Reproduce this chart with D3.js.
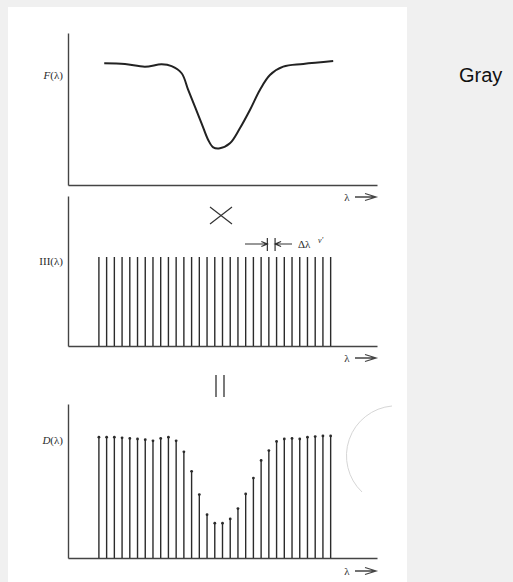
<!DOCTYPE html>
<html>
<head>
<meta charset="utf-8">
<script src="https://cdn.jsdelivr.net/npm/d3@7"></script>
<style>
  html, body { margin: 0; padding: 0; background: #f0f0f0; }
  svg { display: block; }
  text { -webkit-font-smoothing: antialiased; }
  .serif { font-family: "Liberation Serif", "DejaVu Serif", serif; fill: #2a2a2a; }
</style>
</head>
<body>
<script>
// Sample positions of the comb (index of each tooth)
const combIndex = d3.range(31);

// Continuous spectrum F(λ): [λ (tooth units), value]
const fCurve = [
  [0.69, 0.998], [3.37, 0.992], [5.95, 0.970], [8.12, 0.989], [9.41, 0.975],
  [10.71, 0.916], [11.56, 0.779], [12.43, 0.642], [13.29, 0.506], [14.15, 0.369],
  [14.8, 0.309], [15.66, 0.301], [16.96, 0.342], [18.25, 0.465], [19.55, 0.615],
  [20.84, 0.779], [22.14, 0.902], [23.86, 0.970], [26.45, 0.992], [30.33, 1.016]
];

// Sampling comb III(λ): unit teeth
const combValues = combIndex.map(() => 1);

// Sampled spectrum D(λ) at each tooth
const dValues = [
  0.99, 0.99, 0.99, 0.985, 0.98, 0.975, 0.97, 0.96, 0.98, 0.99,
  0.96, 0.87, 0.71, 0.52, 0.355, 0.285, 0.285, 0.32, 0.405, 0.525,
  0.655, 0.80, 0.88, 0.955, 0.975, 0.98, 0.975, 0.99, 0.995, 1.0, 1.0
];

const W = 513, H = 582;
const svg = d3.select("body").append("svg").attr("width", W).attr("height", H);

// paper sheet
svg.append("rect").attr("x", 8).attr("y", 7).attr("width", 399).attr("height", H - 7).attr("fill", "#ffffff");

svg.append("text").attr("x", 459).attr("y", 82)
  .attr("font-family", "Liberation Sans, Arial, sans-serif").attr("font-size", 20)
  .attr("fill", "#111").text("Gray");

const x = d3.scaleLinear().domain([-4, 36]).range([68, 377]);
const yTop = d3.scaleLinear().domain([0, 1.246]).range([185, 33]);
const yMid = d3.scaleLinear().domain([0, 1.685]).range([346, 196]);
const yBot = d3.scaleLinear().domain([0, 1.262]).range([558, 404]);

const ink = "#2b2b2b";

function frame(y) {
  const gx = svg.append("g").attr("transform", `translate(0,${y.range()[0]})`)
    .call(d3.axisBottom(x).ticks(0).tickSizeOuter(0));
  const gy = svg.append("g").attr("transform", `translate(${x.range()[0]},0)`)
    .call(d3.axisLeft(y).ticks(0).tickSizeOuter(0));
  [gx, gy].forEach(g => g.select(".domain").attr("stroke", "#444").attr("stroke-width", 1.4));
}

function lambdaArrow(yPos) {
  svg.append("text").attr("class", "serif").attr("x", 347).attr("y", yPos + 3.5)
    .attr("font-size", 11).attr("text-anchor", "middle").text("λ");
  svg.append("path")
    .attr("d", `M355,${yPos} L376,${yPos} M365,${yPos - 3.5} L376,${yPos} L365,${yPos + 3.5}`)
    .attr("fill", "none").attr("stroke", "#444").attr("stroke-width", 1.3);
}

function yLabel(yPos, parts) {
  const t = svg.append("text").attr("class", "serif").attr("x", 63).attr("y", yPos + 4)
    .attr("font-size", 11).attr("text-anchor", "end");
  parts.forEach(([s, it]) => t.append("tspan").attr("font-style", it ? "italic" : "normal").text(s));
}

// ---- F(λ) ----
frame(yTop);
svg.append("path").datum(fCurve)
  .attr("d", d3.line().x(d => x(d[0])).y(d => yTop(d[1])).curve(d3.curveCatmullRom))
  .attr("fill", "none").attr("stroke", "#222").attr("stroke-width", 2);
yLabel(75, [["F", true], ["(λ)", false]]);
lambdaArrow(197);

// multiplication sign
svg.append("path").attr("d", "M210,207 L232,224 M232,207 L210,224")
  .attr("stroke", "#333").attr("stroke-width", 1.2).attr("fill", "none");

// ---- III(λ) ----
frame(yMid);
svg.append("g").selectAll("line").data(combIndex).join("line")
  .attr("x1", i => x(i)).attr("x2", i => x(i))
  .attr("y1", yMid(0)).attr("y2", i => yMid(combValues[i]))
  .attr("stroke", ink).attr("stroke-width", 1.4);
yLabel(261, [["III(λ)", false]]);
lambdaArrow(358);

// spacing marker Δλ between teeth 22 and 23
const xa = x(22) - 1.5, xb = x(23) - 1.5, ya = 244;
svg.append("path")
  .attr("d", `M245,${ya} L${xa},${ya} M${xa - 6},${ya - 2.5} L${xa},${ya} L${xa - 6},${ya + 2.5}` +
             ` M${xa},${ya - 6} L${xa},${ya + 7} M${xb},${ya - 6} L${xb},${ya + 7}` +
             ` M292,${ya} L${xb},${ya} M${xb + 6},${ya - 2.5} L${xb},${ya} L${xb + 6},${ya + 2.5}`)
  .attr("fill", "none").attr("stroke", "#333").attr("stroke-width", 1.2);
svg.append("text").attr("class", "serif").attr("x", 298).attr("y", ya + 4)
  .attr("font-size", 11).text("Δλ");
svg.append("text").attr("class", "serif").attr("x", 318).attr("y", ya - 1)
  .attr("font-size", 8).attr("font-style", "italic").text("ν'");

// equals bars
svg.append("path").attr("d", "M216,375 L216,397 M224,375 L224,397")
  .attr("stroke", "#333").attr("stroke-width", 1.3);

// ---- D(λ) ----
frame(yBot);
svg.append("g").selectAll("line").data(combIndex).join("line")
  .attr("x1", i => x(i)).attr("x2", i => x(i))
  .attr("y1", yBot(0)).attr("y2", i => yBot(dValues[i]))
  .attr("stroke", ink).attr("stroke-width", 1.4);
svg.append("g").selectAll("circle").data(combIndex).join("circle")
  .attr("cx", i => x(i)).attr("cy", i => yBot(dValues[i])).attr("r", 1.4)
  .attr("fill", ink);
yLabel(440, [["D", true], ["(λ)", false]]);
lambdaArrow(571);

// faint arc near the right margin
svg.append("path")
  .attr("d", "M392,406 A50,50 0 0,0 362,492")
  .attr("fill", "none").attr("stroke", "#d6d6d6").attr("stroke-width", 1);
</script>
</body>
</html>
